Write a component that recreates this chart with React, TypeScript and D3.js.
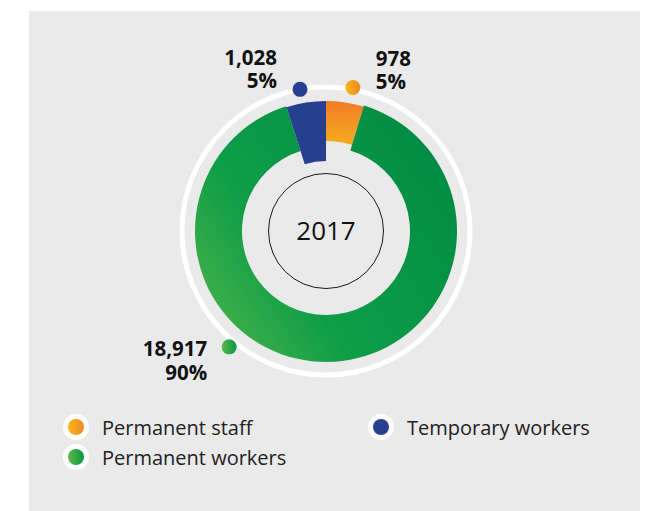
import React from "react";
import * as d3 from "d3";

// ---- data ----
const categories = ["Permanent staff", "Permanent workers", "Temporary workers"];
const values = [978, 18917, 1028];
const centerLabel = "2017";
const legendRows = [["Permanent staff", "Temporary workers"], ["Permanent workers"]];

// ---- styling / layout ----
const W = 658;
const H = 511;
const cx = 326;
const cy = 231;
const FONT = "'Open Sans', 'DejaVu Sans', sans-serif";

const segStyle: Record<string, { inner: number; outer: number; fill: string }> = {
  "Permanent staff": { inner: 90, outer: 130, fill: "url(#gOrange)" },
  "Permanent workers": { inner: 84, outer: 131, fill: "url(#gGreen)" },
  "Temporary workers": { inner: 70, outer: 130, fill: "#26408f" },
};
const dotFill: Record<string, string> = {
  "Permanent staff": "url(#gDotOrange)",
  "Permanent workers": "url(#gDotGreen)",
  "Temporary workers": "#26408f",
};
// label placement: dot angle (deg, clockwise from 12 o'clock), dot radius, text offsets
const labelLayout: Record<string, { ang: number; r: number; dx: number; dy1: number; lh: number; anchor: string }> = {
  "Permanent staff": { ang: 10.6, r: 146, dx: 23, dy1: -21, lh: 23, anchor: "start" },
  "Temporary workers": { ang: -10.4, r: 144, dx: -23, dy1: -24, lh: 23, anchor: "end" },
  "Permanent workers": { ang: 219.9, r: 151, dx: -22, dy1: 9, lh: 24, anchor: "end" },
};

export default function App() {
  const total = d3.sum(values);
  const pie = d3
    .pie<number>()
    .sort(null)
    .value((d) => d)
    .startAngle(0)
    .endAngle(2 * Math.PI);
  const arcs = pie(values);
  const fmt = d3.format(",");

  const legendX = [76, 381];
  const legendY = [427, 457];

  return (
    <svg
      width={W}
      height={H}
      style={{ position: "absolute", left: 0, top: 0, background: "#fff" }}
      fontFamily={FONT}
    >
      <defs>
        {/* gradients in the donut's local (centred) coordinate space */}
        <linearGradient id="gGreen" gradientUnits="userSpaceOnUse" x1={-130} y1={90} x2={130} y2={-90}>
          <stop offset="0" stopColor="#48b24a" />
          <stop offset="0.33" stopColor="#0f9e47" />
          <stop offset="1" stopColor="#008a44" />
        </linearGradient>
        <linearGradient id="gOrange" gradientUnits="userSpaceOnUse" x1={0} y1={-130} x2={0} y2={-88}>
          <stop offset="0" stopColor="#f07c27" />
          <stop offset="1" stopColor="#f6aa1e" />
        </linearGradient>
        <linearGradient id="gDotOrange" x1="0" y1="0" x2="1" y2="0">
          <stop offset="0" stopColor="#f7b71b" />
          <stop offset="1" stopColor="#f08724" />
        </linearGradient>
        <linearGradient id="gDotGreen" x1="0" y1="0" x2="1" y2="0">
          <stop offset="0" stopColor="#5bbb47" />
          <stop offset="1" stopColor="#0d9444" />
        </linearGradient>
      </defs>

      <rect x={29} y={11} width={611} height={500} fill="#eaeaea" />

      {/* outer white ring */}
      <circle cx={cx} cy={cy} r={144} fill="none" stroke="#ffffff" strokeWidth={5} />

      {/* donut segments */}
      <g transform={`translate(${cx},${cy})`}>
        {arcs.map((a, i) => {
          const s = segStyle[categories[i]];
          const path = d3.arc<d3.PieArcDatum<number>>().innerRadius(s.inner).outerRadius(s.outer)(a) || "";
          return <path key={i} d={path} fill={s.fill} />;
        })}
      </g>

      {/* center circle */}
      <circle cx={cx} cy={cy} r={57.5} fill="none" stroke="#1a1a1a" strokeWidth={1} />
      <text x={cx} y={cy + 9} textAnchor="middle" fontSize={26} fill="#111">
        {centerLabel}
      </text>

      {/* value labels */}
      {categories.map((c, i) => {
        const L = labelLayout[c];
        const rad = (L.ang * Math.PI) / 180;
        const x = cx + L.r * Math.sin(rad);
        const y = cy - L.r * Math.cos(rad);
        const pct = Math.round((values[i] / total) * 100) + "%";
        return (
          <g key={c}>
            <circle cx={x} cy={y} r={7.5} fill={dotFill[c]} />
            <text x={x + L.dx} y={y + L.dy1} textAnchor={L.anchor} fontSize={20.5} fontWeight={700} fill="#111">
              <tspan x={x + L.dx}>{fmt(values[i])}</tspan>
              <tspan x={x + L.dx} dy={L.lh}>{pct}</tspan>
            </text>
          </g>
        );
      })}

      {/* legend */}
      {legendRows.map((row, ri) =>
        row.map((c, ci) => (
          <g key={c} transform={`translate(${legendX[ci]},${legendY[ri]})`}>
            <circle r={13} fill="#ffffff" />
            <circle r={8} fill={dotFill[c]} />
            <text x={26} y={8} fontSize={20} fill="#222">
              {c}
            </text>
          </g>
        ))
      )}
    </svg>
  );
}
